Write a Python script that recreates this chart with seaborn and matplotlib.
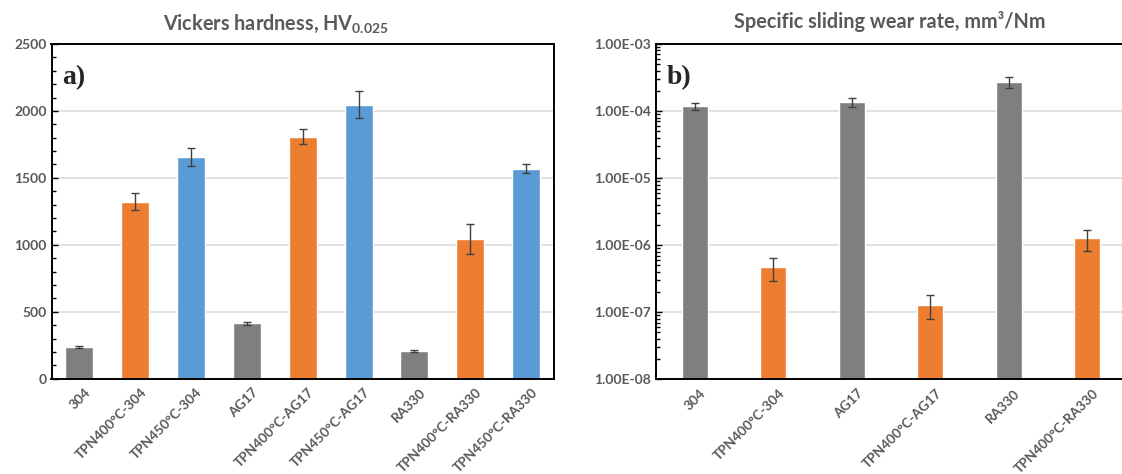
import matplotlib
matplotlib.use("Agg")
import numpy as np
import pandas as pd
import matplotlib.pyplot as plt
import matplotlib.transforms as mtransforms
import seaborn as sns
from matplotlib.ticker import MultipleLocator, FuncFormatter, LogLocator, NullFormatter

sns.set_style("white")
plt.rcParams["font.family"] = ["Lato", "DejaVu Sans"]
plt.rcParams["mathtext.fontset"] = "custom"
plt.rcParams["mathtext.rm"] = "Lato"
plt.rcParams["mathtext.bf"] = "Lato:bold"

GREY, ORANGE, BLUE = "#7F7F7F", "#ED7D31", "#5B9BD5"
TXT = "#595959"

# ── data ────────────────────────────────────────────────────────────────
hv_labels = ["304", "TPN400°C-304", "TPN450°C-304",
             "AG17", "TPN400°C-AG17", "TPN450°C-AG17",
             "RA330", "TPN400°C-RA330", "TPN450°C-RA330"]
hv_values = [238, 1322, 1655, 414, 1808, 2048, 208, 1043, 1570]
hv_err    = [9, 65, 67, 12, 56, 100, 7, 112, 35]
hv_colors = [GREY, ORANGE, BLUE] * 3

wr_labels = ["304", "TPN400°C-304", "AG17", "TPN400°C-AG17", "RA330", "TPN400°C-RA330"]
wr_values = [1.18e-4, 4.75e-7, 1.36e-4, 1.28e-7, 2.72e-4, 1.26e-6]
wr_err    = [0.13e-4, 1.78e-7, 0.20e-4, 0.50e-7, 0.48e-4, 0.44e-6]
wr_colors = [GREY, ORANGE] * 3

W, H = 1122, 474
fig = plt.figure(figsize=(W / 100, H / 100), dpi=100)
ax1 = fig.add_axes([51.5 / W, (H - 378.7) / H, (554 - 51.5) / W, (378.7 - 44) / H])
ax2 = fig.add_axes([655.5 / W, (H - 379.3) / H, (W - 655.5) / W, (379.3 - 44) / H])

shift = mtransforms.ScaledTranslation(5 / 100, -2 / 100, fig.dpi_scale_trans)


def style(ax):
    ax.set_axisbelow(True)
    ax.yaxis.grid(True, which="major", color="#D9D9D9", lw=1.1)
    ax.xaxis.grid(False)
    for s in ax.spines.values():
        s.set_color("black")
        s.set_linewidth(1.4)
    ax.tick_params(axis="y", which="both", direction="in", left=True,
                   colors="black", labelcolor=TXT, labelsize=10)
    ax.tick_params(axis="y", which="major", length=4, width=1)
    ax.tick_params(axis="y", which="minor", length=3, width=1)
    ax.tick_params(axis="x", length=0, labelcolor=TXT, labelsize=9.8, pad=4)
    for t in ax.get_yticklabels():
        t.set_fontweight("bold")
    for t in ax.get_xticklabels():
        t.set_fontweight("bold")
        t.set_rotation(45)
        t.set_ha("right")
        t.set_rotation_mode("anchor")
        t.set_transform(t.get_transform() + shift)
    ax.set_xlabel("")
    ax.set_ylabel("")


# ── a) Vickers hardness ──────────────────────────────────────────────────
hv = pd.DataFrame({"sample": hv_labels, "hv": hv_values})
sns.barplot(data=hv, x="sample", y="hv", hue="sample", palette=hv_colors,
            width=0.5, legend=False, saturation=1, ax=ax1)
ax1.errorbar(np.arange(len(hv_values)), hv_values, yerr=hv_err, fmt="none",
             ecolor="#404040", elinewidth=1, capsize=3, capthick=1)
ax1.set_xlim(-0.5, len(hv_values) - 0.5)
ax1.set_ylim(0, 2500)
ax1.yaxis.set_major_locator(MultipleLocator(500))
ax1.yaxis.set_minor_locator(MultipleLocator(100))
style(ax1)
ax1.text(0.022, 0.9, "a)", transform=ax1.transAxes, family="Liberation Serif",
         fontweight="bold", fontsize=20, va="center", ha="left")

# ── b) specific wear rate ────────────────────────────────────────────────
ax2.set_yscale("log")
wr = pd.DataFrame({"sample": wr_labels, "wr": wr_values})
sns.barplot(data=wr, x="sample", y="wr", hue="sample", palette=wr_colors,
            width=0.33, legend=False, saturation=1, ax=ax2)
ax2.errorbar(np.arange(len(wr_values)), wr_values, yerr=wr_err, fmt="none",
             ecolor="#404040", elinewidth=1, capsize=3, capthick=1)
ax2.set_xlim(-0.5, -0.5 + (W - 655.5) / 78.5)
ax2.set_ylim(1e-8, 1e-3)
ax2.yaxis.set_major_locator(LogLocator(base=10))
ax2.yaxis.set_minor_locator(LogLocator(base=10, subs=np.arange(2, 10)))
ax2.yaxis.set_minor_formatter(NullFormatter())
ax2.yaxis.set_major_formatter(FuncFormatter(lambda v, p: f"{v:.2E}"))
ax2.spines["right"].set_visible(False)
style(ax2)
ax2.text(0.025, 0.9, "b)", transform=ax2.transAxes, family="Liberation Serif",
         fontweight="bold", fontsize=20, va="center", ha="left")

fig.text(276 / W, 1 - 24 / H, r"Vickers hardness, HV$_{\mathbf{0.025}}$",
         ha="center", va="center", fontsize=14.3, fontweight="bold", color=TXT)
fig.text(890 / W, 1 - 22 / H, "Specific sliding wear rate, mm³/Nm",
         ha="center", va="center", fontsize=14.3, fontweight="bold", color=TXT)

fig.savefig("out.png", dpi=100)
